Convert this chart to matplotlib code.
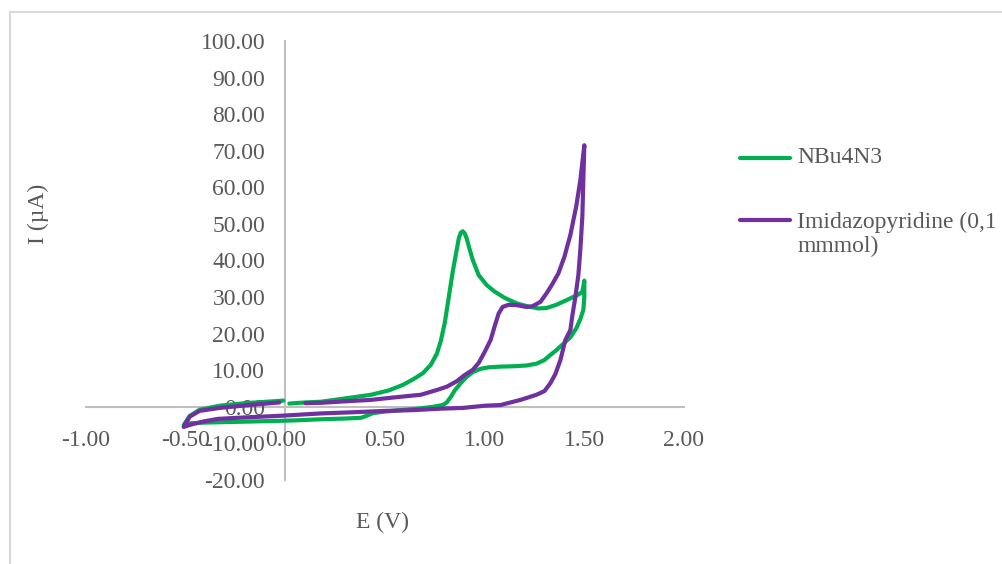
import matplotlib
matplotlib.use('Agg')
import matplotlib.pyplot as plt
from matplotlib.lines import Line2D
from matplotlib.patches import Rectangle

# colours (Excel defaults)
green = '#00B050'
purple = '#7030A0'
txt_grey = '#595959'
axis_grey = '#BFBFBF'

## -----------------
## DATA
## -----------------

# NBu4N3 - forward scan, vertex at 1.5 V, back to -0.5 V and up again
nbu_E = [0.02, 0.10, 0.18, 0.30, 0.43, 0.52, 0.59, 0.65, 0.69, 0.73, 0.76, 0.78, 0.80, 0.82,
         0.84, 0.86, 0.87, 0.88, 0.89, 0.90, 0.91, 0.925, 0.94, 0.97, 1.01, 1.05, 1.10, 1.16,
         1.22, 1.27, 1.31, 1.36, 1.42, 1.47, 1.49, 1.50,
         1.50, 1.495, 1.48, 1.46, 1.43, 1.40, 1.36, 1.33, 1.30, 1.26, 1.21, 1.15, 1.08, 1.02,
         0.98, 0.94, 0.91, 0.88, 0.85, 0.83, 0.81, 0.79, 0.74, 0.68, 0.58, 0.50, 0.44, 0.41,
         0.38, 0.30, 0.18, 0.05, -0.01, -0.24, -0.40, -0.48, -0.51,
         -0.48, -0.43, -0.33, -0.20, -0.01]
nbu_I = [0.9, 1.2, 1.4, 2.3, 3.3, 4.5, 6.0, 7.8, 9.2, 11.5, 14.5, 18.0, 23.0, 30.0,
         37.0, 43.0, 46.0, 47.6, 48.0, 47.4, 46.0, 43.0, 40.2, 36.0, 33.3, 31.5, 29.8, 28.3,
         27.4, 26.9, 27.0, 27.9, 29.4, 30.7, 31.4, 34.5,
         30.0, 26.5, 24.0, 21.5, 19.0, 17.5, 15.5, 14.2, 12.8, 11.8, 11.3, 11.1, 11.0, 10.8,
         10.4, 9.5, 8.2, 6.5, 4.5, 2.7, 1.2, 0.5, 0.0, -0.4, -0.9, -1.3, -1.7, -2.4,
         -3.0, -3.2, -3.4, -3.7, -3.8, -4.1, -4.3, -4.5, -5.0,
         -2.5, -0.8, 0.3, 1.0, 1.7]

# Imidazopyridine (0,1 mmmol)
imi_E = [0.10, 0.18, 0.30, 0.43, 0.55, 0.68, 0.76, 0.81, 0.86, 0.90, 0.94, 0.97, 1.00, 1.03,
         1.05, 1.07, 1.09, 1.12, 1.16, 1.21, 1.24, 1.28, 1.31, 1.34, 1.37, 1.40, 1.43, 1.46,
         1.48, 1.50,
         1.495, 1.49, 1.48, 1.47, 1.455, 1.44, 1.43, 1.405, 1.38, 1.355, 1.33, 1.30, 1.26, 1.18,
         1.08, 1.00, 0.89, 0.78, 0.64, 0.51, 0.33, 0.18, -0.01, -0.24, -0.34, -0.41, -0.47, -0.51,
         -0.48, -0.43, -0.33, -0.16, -0.03]
imi_I = [1.0, 1.1, 1.5, 1.9, 2.6, 3.3, 4.6, 5.5, 7.0, 8.7, 10.1, 12.0, 15.0, 18.3,
         22.0, 25.5, 27.3, 27.9, 27.8, 27.3, 27.5, 28.7, 31.0, 33.6, 36.5, 41.0, 47.0, 55.0,
         62.0, 71.5,
         62.0, 52.0, 43.0, 36.0, 30.0, 25.0, 21.0, 18.3, 12.8, 9.0, 6.5, 4.3, 3.3, 1.9,
         0.5, 0.3, -0.3, -0.5, -0.9, -1.1, -1.5, -1.8, -2.4, -3.0, -3.3, -4.0, -4.8, -5.5,
         -2.7, -1.1, -0.3, 0.6, 1.2]

x_ticks = [-1.0, -0.5, 0.0, 0.5, 1.0, 1.5, 2.0]
y_ticks = [-20, -10, 0, 10, 20, 30, 40, 50, 60, 70, 80, 90, 100]

## -----------------
##  CHARTING
## -----------------

plt.rcParams['font.family'] = 'Liberation Serif'
plt.rcParams['axes.unicode_minus'] = False

fig = plt.figure(figsize=(10.02, 5.64), dpi=100)
fig.patch.set_facecolor('white')

# chart area border
fig.add_artist(Rectangle((10 / 1002, -0.2), 1.2, 1.2 - 12 / 564, transform=fig.transFigure,
                         fill=False, edgecolor='#D9D9D9', linewidth=1.5))

ax = fig.add_axes([86 / 1002, 1 - 480 / 564, 598 / 1002, 439 / 564])
ax.set_xlim(-1, 2)
ax.set_ylim(-20, 100)

ax.plot(nbu_E, nbu_I, color=green, linewidth=3, solid_capstyle='round', solid_joinstyle='round')
ax.plot(imi_E, imi_I, color=purple, linewidth=3, solid_capstyle='round', solid_joinstyle='round')

# axes cross at the origin, excel style
for s in ['top', 'right']:
    ax.spines[s].set_visible(False)
ax.spines['left'].set_position(('data', 0))
ax.spines['bottom'].set_position(('data', 0))
ax.spines['left'].set_color(axis_grey)
ax.spines['bottom'].set_color(axis_grey)
ax.spines['left'].set_linewidth(1.5)
ax.spines['bottom'].set_linewidth(1.5)
ax.spines['left'].set_zorder(0)
ax.spines['bottom'].set_zorder(0)

ax.set_xticks(x_ticks)
ax.set_yticks(y_ticks)
ax.set_xticklabels(['%.2f' % v for v in x_ticks])
ax.set_yticklabels(['%.2f' % v for v in y_ticks])
ax.tick_params(axis='x', length=0, pad=17, labelsize=17, labelcolor=txt_grey)
ax.tick_params(axis='y', length=0, pad=14.5, labelsize=17, labelcolor=txt_grey)

ax.set_xlabel('E (V)', fontsize=17, color=txt_grey, va='center')
ax.xaxis.set_label_coords((382 - 86) / 598, (480 - 522) / 439)
ax.set_ylabel('I (µA)', fontsize=17, color=txt_grey, va='center')
ax.yaxis.set_label_coords((38 - 86) / 598, (480 - 214) / 439)

# legend drawn by hand so the handle sits on the first line of the label
fig.add_artist(Line2D([740 / 1002, 790 / 1002], [1 - 158 / 564] * 2, color=green, linewidth=3,
                      solid_capstyle='round', transform=fig.transFigure))
fig.add_artist(Line2D([740 / 1002, 790 / 1002], [1 - 220 / 564] * 2, color=purple, linewidth=3,
                      solid_capstyle='round', transform=fig.transFigure))
fig.text(797 / 1002, 1 - 163 / 564, 'NBu4N3', fontsize=17, color=txt_grey, va='baseline')
fig.text(797 / 1002, 1 - 228 / 564, 'Imidazopyridine (0,1', fontsize=17, color=txt_grey, va='baseline')
fig.text(797 / 1002, 1 - 252 / 564, 'mmmol)', fontsize=17, color=txt_grey, va='baseline')

fig.savefig('out.png', dpi=100)
